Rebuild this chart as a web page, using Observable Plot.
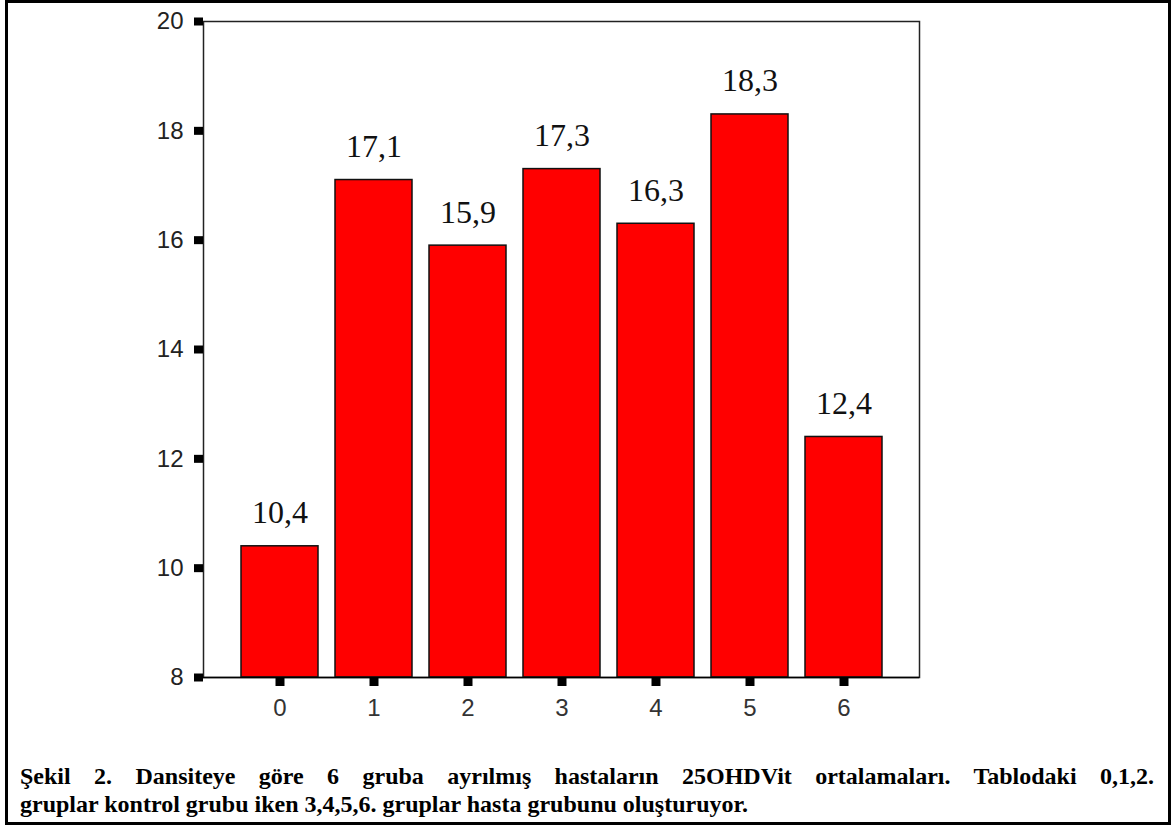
<!DOCTYPE html>
<html>
<head>
<meta charset="utf-8">
<script src="https://cdn.jsdelivr.net/npm/d3@7"></script>
<script src="https://cdn.jsdelivr.net/npm/@observablehq/plot@0.6"></script>
<style>
  html, body { margin: 0; padding: 0; background: #fff; }
  body { width: 1173px; height: 827px; position: relative; overflow: hidden; }
  #box { position: absolute; left: 5px; top: 0px; width: 1166px; height: 825px; border: 3px solid #000; box-sizing: border-box; }
  #chart { position: absolute; left: 0; top: 0; }
  #caption { position: absolute; left: 20px; top: 762px; width: 1134px; font-family: "Liberation Serif", "Times New Roman", serif; font-weight: bold; font-size: 24px; line-height: 28px; color: #000; white-space: normal; }
  #caption .l1 { text-align: justify; text-align-last: justify; white-space: nowrap; }
</style>
</head>
<body>
<div id="box"></div>
<div id="chart"></div>
<div id="caption">
  <div class="l1">Şekil 2. Dansiteye göre 6 gruba ayrılmış hastaların 25OHDVit ortalamaları. Tablodaki 0,1,2.</div>
  <div>gruplar kontrol grubu iken 3,4,5,6. gruplar hasta grubunu oluşturuyor.</div>
</div>
<script>
const groups = ["0", "1", "2", "3", "4", "5", "6"];
const means = [10.4, 17.1, 15.9, 17.3, 16.3, 18.3, 12.4];
const labels = ["10,4", "17,1", "15,9", "17,3", "16,3", "18,3", "12,4"];
const yTicks = [8, 10, 12, 14, 16, 18, 20];
const yBase = 8;

const data = groups.map((g, i) => ({group: g, mean: means[i], label: labels[i]}));

const chart = Plot.plot({
  width: 960,
  height: 720,
  marginLeft: 203,
  marginTop: 21,
  marginRight: 41,
  marginBottom: 43,
  style: {background: "transparent", color: "#000"},
  x: {domain: groups, paddingInner: 0.186, paddingOuter: 0.38, label: null},
  y: {domain: [8, 20], label: null},
  marks: [
    Plot.barY(data, {x: "group", y1: yBase, y2: "mean", fill: "#ff0000", stroke: "#111", strokeWidth: 1.5}),
    Plot.text(data, {x: "group", y: "mean", text: "label", lineAnchor: "bottom", dy: -23,
      fontFamily: "Liberation Serif, Times New Roman, serif", fontSize: 32, fill: "#111"}),
    Plot.frame({stroke: "#222", strokeWidth: 1.5}),
    Plot.ruleY([8], {stroke: "#000", strokeWidth: 1.5}),
    Plot.axisY({ticks: yTicks, tickSize: 9, tickPadding: 11, strokeWidth: 8, stroke: "#000",
      fontFamily: "Liberation Sans, Arial, sans-serif", fontSize: 24, fill: "#222", label: null}),
    Plot.axisX({tickSize: 9, tickPadding: 12, strokeWidth: 9, stroke: "#000",
      fontFamily: "Liberation Sans, Arial, sans-serif", fontSize: 24, fill: "#333", label: null})
  ]
});
document.getElementById("chart").appendChild(chart);
</script>
</body>
</html>
